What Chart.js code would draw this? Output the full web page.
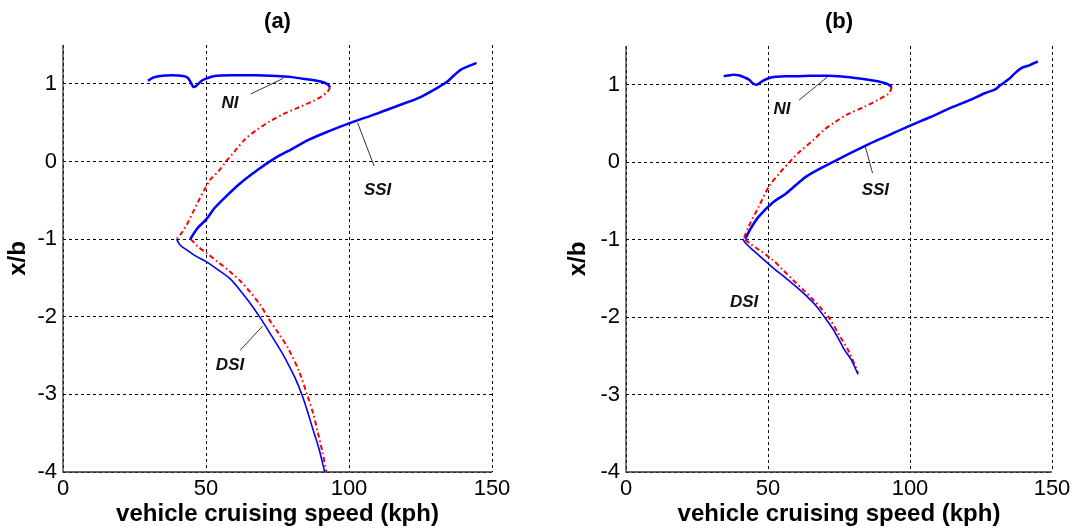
<!DOCTYPE html>
<html><head><meta charset="utf-8">
<script src="https://cdn.jsdelivr.net/npm/chart.js@4.4.0/dist/chart.umd.min.js"></script>
<style>
html,body{margin:0;padding:0;background:#fff;}
#wrap{position:relative;width:1077px;height:531px;}
.box{position:absolute;top:0;height:531px;}
#boxA{left:0;width:540px;}
#boxB{left:540px;width:537px;}
</style></head><body>
<div id="wrap">
<div class="box" id="boxA"><canvas id="cA" width="540" height="531"></canvas></div>
<div class="box" id="boxB"><canvas id="cB" width="537" height="531"></canvas></div>
</div>
<script>
// ---------- tick labels ----------
const xTicks = [0, 50, 100, 150];
const yTicks = [-4, -3, -2, -1, 0, 1];
const xTitle = 'vehicle cruising speed (kph)';
const yTitle = 'x/b';

// ---------- panel (a) ----------
const niBlueA_x = [29.7,31.5,34,38,42,43.5,44.5,45.6,46.5,47.3,48.5,50.2,53,60,67,74.7,79,83,86,88.7,91,92.6,93.4];
const niBlueA_y = [1.04,1.08,1.10,1.11,1.10,1.08,1.03,0.96,0.97,1.0,1.04,1.07,1.10,1.11,1.11,1.10,1.09,1.07,1.055,1.04,1.02,0.99,0.955];
const niRedA_x = [93.4,92.5,90.5,87,82,77,72,67.5,63.5,60,57,54.5,51.6,49.5,47.5,45.5,43.5,41.5,39.7];
const niRedA_y = [0.955,0.90,0.84,0.77,0.69,0.61,0.51,0.40,0.28,0.13,0.0,-0.12,-0.23,-0.36,-0.50,-0.65,-0.80,-0.92,-1.0];
const ssiA_x = [44.5,47,50,53,57,62,68,74,80,86,93,100,110,118,125,131,134.4,136.5,139,142,144.6];
const ssiA_y = [-1.0,-0.86,-0.75,-0.60,-0.45,-0.28,-0.11,0.04,0.16,0.28,0.39,0.49,0.62,0.73,0.83,0.95,1.03,1.10,1.18,1.23,1.27];
const dsiBlueA_x = [39.7,41,43.3,46,50,54,58.4,63.2,66.5,69.8,73,76.5,79,81.3,83.7,85.5,87.3,89.5,91.5];
const dsiBlueA_y = [-1.0,-1.08,-1.14,-1.21,-1.29,-1.39,-1.51,-1.72,-1.88,-2.06,-2.25,-2.46,-2.63,-2.80,-3.02,-3.22,-3.44,-3.70,-4.0];
const dsiRedA_x = [44.7,47,50.2,54,58.4,62,65.4,69,71.8,75.5,78.9,82.5,85.5,87.5,89.1,90.7,92.1];
const dsiRedA_y = [-1.0,-1.09,-1.18,-1.29,-1.42,-1.54,-1.68,-1.85,-2.02,-2.22,-2.42,-2.70,-3.02,-3.25,-3.49,-3.74,-4.0];

// ---------- panel (b) ----------
const niBlueB_x = [34.4,36,37.8,40,42,43.5,44.6,45.9,47,48.2,50,52,56,60,65,71,76,80,84.2,87.5,90.2,92,93.6];
const niBlueB_y = [1.11,1.12,1.13,1.12,1.09,1.06,1.02,1.00,1.02,1.05,1.08,1.10,1.11,1.11,1.115,1.115,1.105,1.09,1.07,1.05,1.03,1.01,0.97];
const niRedB_x = [93.6,92.6,89,84.2,78.1,73.3,69.5,66.1,61.3,58.3,54.1,50.4,46.8,43.2,41.4];
const niRedB_y = [0.97,0.89,0.81,0.72,0.62,0.51,0.41,0.29,0.14,0.03,-0.14,-0.31,-0.57,-0.83,-0.99];
const ssiB_x = [42,44,46.8,51.7,56.5,63.7,73.3,84.2,92,99.8,107,114.3,121,126.3,130,131.7,134.7,137,139.5,142,145];
const ssiB_y = [-0.99,-0.85,-0.70,-0.52,-0.40,-0.18,0.01,0.21,0.34,0.47,0.58,0.70,0.80,0.89,0.94,0.99,1.07,1.15,1.22,1.25,1.30];
const dsiBlueB_x = [41.1,42,44.5,48.6,52,56.4,60,63.6,66.8,69.7,73.3,76.9,79.3,81.7];
const dsiBlueB_y = [-0.99,-1.04,-1.13,-1.26,-1.37,-1.50,-1.61,-1.73,-1.85,-1.99,-2.18,-2.42,-2.55,-2.74];
const dsiRedB_x = [42,44,46.8,51.6,55.2,58.8,62.5,66,69,71.5,75.7,78.7,81.7];
const dsiRedB_y = [-1.0,-1.06,-1.13,-1.26,-1.39,-1.52,-1.65,-1.78,-1.90,-2.01,-2.27,-2.46,-2.72];

// ---------- curve labels (text, label x, label y, leader line in data units) ----------
const labelsA = [
  {text:'NI',  x:58.4, y:0.75,  line:[65.7,0.87,77,1.07]},
  {text:'SSI', x:110,  y:-0.37, line:[103,0.50,108.8,-0.06]},
  {text:'DSI', x:58.4, y:-2.63, line:[62,-2.43,69.8,-2.12]}
];
const labelsB = [
  {text:'NI',  x:54.9, y:0.68,  line:[60.9,0.80,70.9,1.10]},
  {text:'SSI', x:87.8, y:-0.36, line:[84.2,0.21,86.8,-0.14]},
  {text:'DSI', x:41.6, y:-1.81, line:null}
];

const pts = (xs, ys) => xs.map((v, i) => ({x: v, y: ys[i]}));
const FONT = '"Liberation Sans", Arial, Helvetica, sans-serif';
const BLUE = '#0000ff', RED = '#ff0000';
const DASHDOT = [5, 3, 1.5, 3];

// solid axis lines (left and bottom) drawn over the dashed grid
const axisLinePlugin = {
  id: 'axisLines',
  beforeDatasetsDraw(chart) {
    const {ctx, chartArea: a} = chart;
    ctx.save();
    ctx.setLineDash([]);
    ctx.strokeStyle = '#333'; ctx.lineWidth = 1.3;
    ctx.beginPath();
    ctx.moveTo(a.left, a.top); ctx.lineTo(a.left, a.bottom); ctx.lineTo(a.right, a.bottom);
    ctx.stroke();
    ctx.restore();
  }
};

const annotPlugin = {
  id: 'curveLabels',
  afterDatasetsDraw(chart, args, opts) {
    const {ctx} = chart; const xs = chart.scales.x, ys = chart.scales.y;
    ctx.save();
    (opts.items || []).forEach(it => {
      if (it.line) {
        ctx.beginPath();
        ctx.strokeStyle = '#333'; ctx.lineWidth = 1;
        ctx.moveTo(xs.getPixelForValue(it.line[0]), ys.getPixelForValue(it.line[1]));
        ctx.lineTo(xs.getPixelForValue(it.line[2]), ys.getPixelForValue(it.line[3]));
        ctx.stroke();
      }
      ctx.font = 'italic bold 17px ' + FONT;
      ctx.fillStyle = '#111'; ctx.textAlign = 'center'; ctx.textBaseline = 'middle';
      ctx.fillText(it.text, xs.getPixelForValue(it.x), ys.getPixelForValue(it.y));
    });
    ctx.restore();
  }
};

function makeChart(id, cfg) {
  const ds = (label, xs, ys, color, width, dash) => ({
    label, data: pts(xs, ys), borderColor: color, backgroundColor: color,
    borderWidth: width, borderDash: dash || [], showLine: true, pointRadius: 0,
    tension: 0.3, fill: false
  });
  return new Chart(document.getElementById(id), {
    type: 'scatter',
    data: { datasets: [
      ds('NI', cfg.ni[0], cfg.ni[1], BLUE, 2.5),
      ds('NI (red)', cfg.niR[0], cfg.niR[1], RED, 2, DASHDOT),
      ds('SSI', cfg.ssi[0], cfg.ssi[1], BLUE, 2.5),
      ds('DSI', cfg.dsi[0], cfg.dsi[1], BLUE, 1.6),
      ds('DSI (red)', cfg.dsiR[0], cfg.dsiR[1], RED, 2, DASHDOT)
    ]},
    options: {
      responsive: false, animation: false,
      layout: { padding: { left: cfg.padLeft, right: cfg.padRight, top: 0, bottom: 0 } },
      plugins: {
        legend: { display: false }, tooltip: { enabled: false },
        title: { display: true, text: cfg.title, fullSize: false, color: '#000',
                 font: { family: FONT, size: 22, weight: 'bold' },
                 padding: { top: 9, bottom: cfg.titleBottom } },
        curveLabels: { items: cfg.labels }
      },
      scales: {
        x: {
          type: 'linear', min: 0, max: 150,
          afterBuildTicks: s => { s.ticks = xTicks.map(v => ({value: v})); },
          afterFit: s => { s.height = 59; },
          ticks: { color: '#000', font: { family: FONT, size: 22 }, padding: 4, maxRotation: 0 },
          grid: { color: '#000', lineWidth: 1, drawTicks: false },
          border: { display: false, dash: [3, 3] },
          title: { display: true, text: xTitle, color: '#000',
                   font: { family: FONT, size: 24, weight: 'bold' }, padding: { top: 0, bottom: 2 } }
        },
        y: {
          type: 'linear', min: -4, max: 1.5,
          afterBuildTicks: s => { s.ticks = yTicks.map(v => ({value: v})); },
          afterFit: s => { s.width = cfg.yWidth; },
          ticks: { color: '#000', font: { family: FONT, size: 22 }, padding: 6 },
          grid: { color: '#000', lineWidth: 1, drawTicks: false },
          border: { display: false, dash: [3, 3] },
          title: { display: true, text: yTitle, color: '#000',
                   font: { family: FONT, size: 24, weight: 'bold' }, padding: { top: 4, bottom: 0 } }
        }
      }
    },
    plugins: [axisLinePlugin, annotPlugin]
  });
}

makeChart('cA', {
  title: '(a)', padLeft: 0, padRight: 48, yWidth: 63, titleBottom: 9.6,
  ni: [niBlueA_x, niBlueA_y], niR: [niRedA_x, niRedA_y], ssi: [ssiA_x, ssiA_y],
  dsi: [dsiBlueA_x, dsiBlueA_y], dsiR: [dsiRedA_x, dsiRedA_y], labels: labelsA
});
makeChart('cB', {
  title: '(b)', padLeft: 20, padRight: 25, yWidth: 66, titleBottom: 10.6,
  ni: [niBlueB_x, niBlueB_y], niR: [niRedB_x, niRedB_y], ssi: [ssiB_x, ssiB_y],
  dsi: [dsiBlueB_x, dsiBlueB_y], dsiR: [dsiRedB_x, dsiRedB_y], labels: labelsB
});
</script>
</body></html>
